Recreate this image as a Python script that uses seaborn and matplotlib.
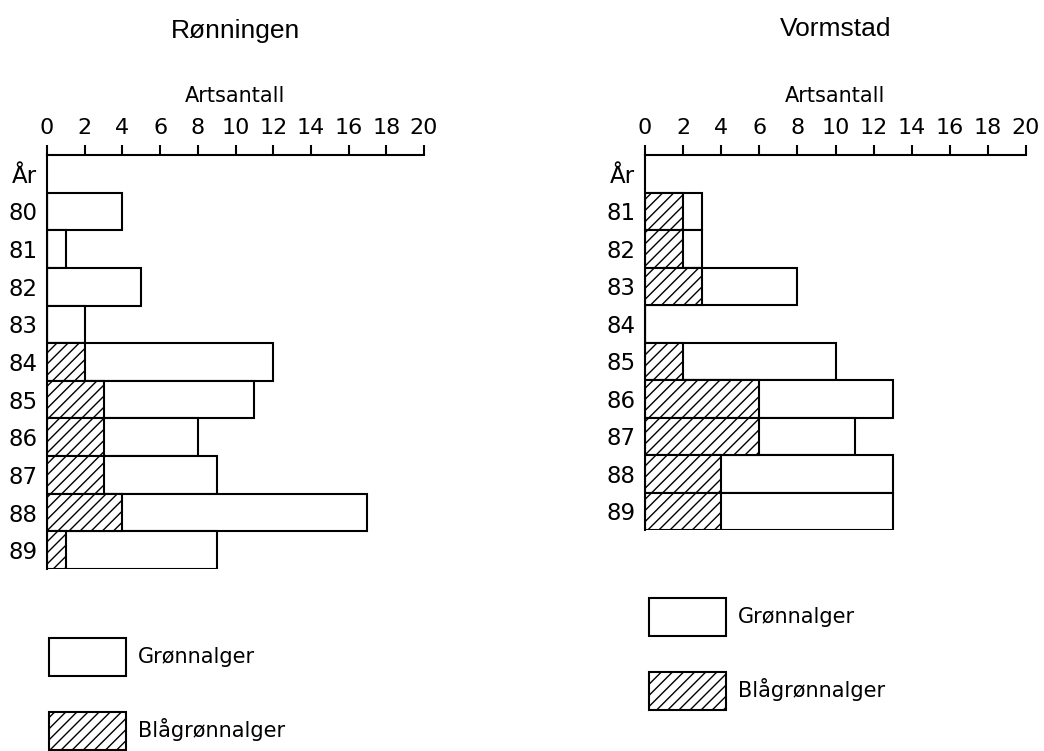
import matplotlib
matplotlib.use("Agg")
from matplotlib import pyplot as plt
from matplotlib.patches import Patch
import seaborn as sns

# Data
ronn_years = ["80", "81", "82", "83", "84", "85", "86", "87", "88", "89"]
ronn_total = [4, 1, 5, 2, 12, 11, 8, 9, 17, 9]
ronn_blue = [0, 0, 0, 0, 2, 3, 3, 3, 4, 1]

vorm_years = ["81", "82", "83", "84", "85", "86", "87", "88", "89"]
vorm_total = [3, 3, 8, 0, 10, 13, 11, 13, 13]
vorm_blue = [2, 2, 3, 0, 2, 6, 6, 4, 4]

xticks = list(range(0, 21, 2))
lab_green = "Grønnalger"
lab_blue = "Blågrønnalger"

sns.set_theme(style="ticks", rc={"axes.edgecolor": "black", "axes.linewidth": 1.5,
                                 "axes.labelcolor": "black",
                                 "xtick.color": "black", "ytick.color": "black",
                                 "text.color": "black", "hatch.linewidth": 1.0})
plt.rcParams["font.family"] = ["DejaVu Sans"]

W, H = 1044, 751
fig = plt.figure(figsize=(W / 100, H / 100), dpi=100)


def panel(rect, years, total, blue, title, title_y):
    ax = fig.add_axes(rect)
    order = ["År"] + years
    #white bar = total, hatched part = blue-green algae drawn over it
    sns.barplot(x=total, y=years, order=order, orient="h", color="white",
                edgecolor="black", linewidth=1.5, width=1.0, saturation=1, ax=ax)
    sns.barplot(x=blue, y=years, order=order, orient="h", color="white",
                edgecolor="black", linewidth=1.5, width=1.0, saturation=1,
                hatch="///", ax=ax)
    ax.set_xlim(0, 20)
    ax.set_xticks(xticks)
    ax.xaxis.tick_top()
    ax.xaxis.set_label_position("top")
    ax.set_xlabel("Artsantall", fontsize=15, labelpad=12)
    ax.set_ylabel("")
    ax.tick_params(axis="x", direction="out", length=7, width=1.5, pad=5, labelsize=16)
    ax.tick_params(axis="y", length=0, pad=7, labelsize=16.5)
    for s in ["bottom", "right"]:
        ax.spines[s].set_visible(False)
    cx = rect[0] + rect[2] / 2
    fig.text(cx, title_y, title, ha="center", va="baseline", fontsize=19,
             family=["Liberation Sans", "DejaVu Sans"])
    return ax


def add_legend(anchor):
    handles = [Patch(facecolor="white", edgecolor="black", linewidth=1.5, label=lab_green),
               Patch(facecolor="white", edgecolor="black", linewidth=1.5, hatch="///", label=lab_blue)]
    fig.legend(handles=handles, loc="upper left", bbox_to_anchor=anchor,
               bbox_transform=fig.transFigure, frameon=False, fontsize=15,
               handlelength=3.7, handleheight=2.4, labelspacing=1.75,
               handletextpad=0.55, borderpad=0, borderaxespad=0)


panel([47 / W, 1 - 569 / H, 377 / W, 414 / H], ronn_years, ronn_total, ronn_blue,
      "Rønningen", 1 - 38 / H)
panel([645 / W, 1 - 530 / H, 381 / W, 375 / H], vorm_years, vorm_total, vorm_blue,
      "Vormstad", 1 - 36 / H)

add_legend((49 / W, 1 - 638 / H))
add_legend((649 / W, 1 - 598 / H))

plt.savefig("out.png", dpi=100)
plt.close()
